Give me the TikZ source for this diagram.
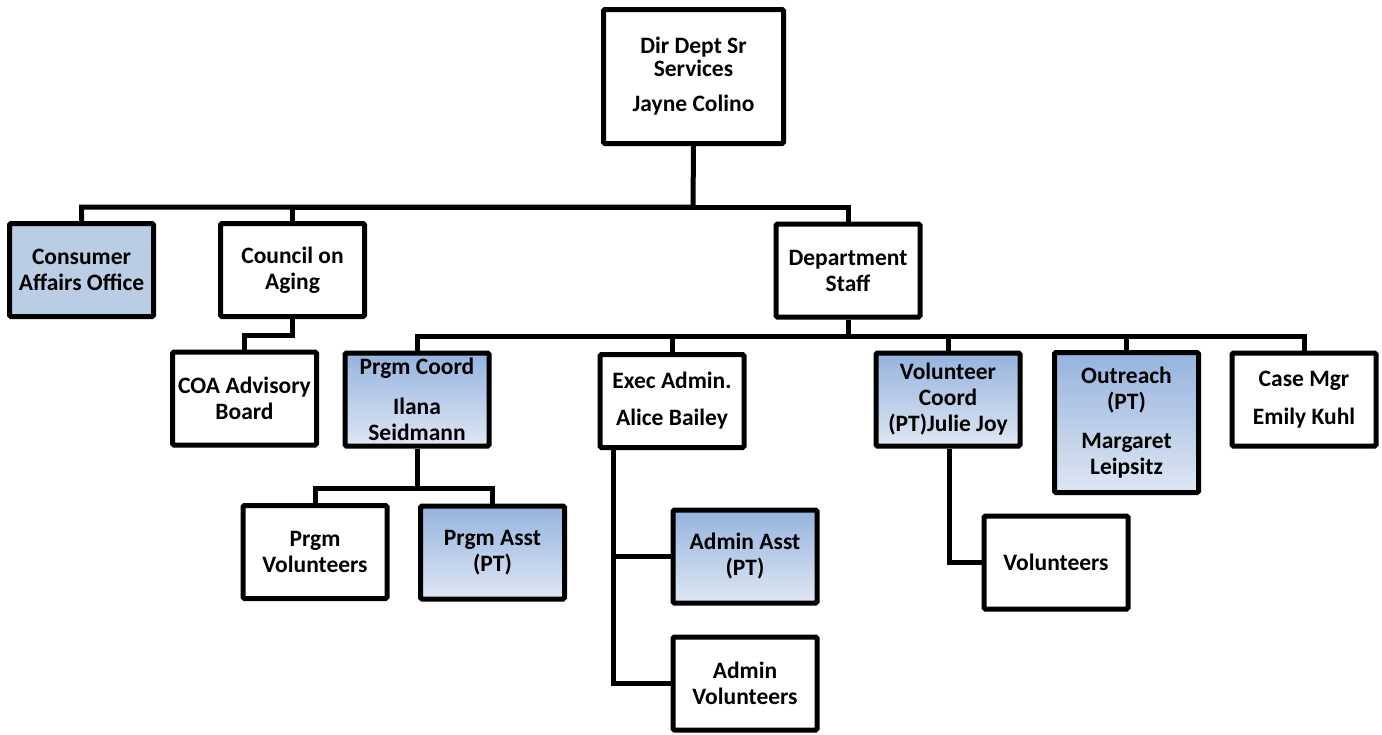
\documentclass[tikz,border=0pt]{standalone}
\usepackage{fontspec}
\setmainfont{Carlito}
\usepackage{xcolor}
\usetikzlibrary{positioning,calc}
\definecolor{flatblue}{HTML}{B9CDE5}
\definecolor{gtop}{HTML}{95B3DE}
\definecolor{gbot}{HTML}{DFE7F3}
\tikzset{
  box/.style={draw=black, line width=5pt, rounded corners=1.5pt, fill=white, align=center,
    minimum width=144pt, minimum height=93pt, inner sep=2pt,
    font=\fontsize{23.5}{26}\selectfont\bfseries},
  flatbox/.style={box, fill=flatblue},
  gradbox/.style={box, top color=gtop, bottom color=gbot},
  link/.style={draw=black, line width=5pt},
}

\begin{document}
\begin{tikzpicture}[x=1pt, y=-1pt]
  \useasboundingbox (0,0) rectangle (1382,734);
  % top level
  \node[box, minimum width=180pt, minimum height=134pt] (dir) at (693.5,76.5) {Dir Dept Sr\\[-3pt]Services\\[9pt]Jayne Colino};
  \node[flatbox] (cao) at (81.5,270) {Consumer\\Affairs Office};
  \node[box] (coa) at (292.5,270) {Council on\\Aging};
  \node[box] (dst) at (848,270.5) {Department\\Staff};
  \node[box] (adv) at (244.5,398.5) {COA Advisory\\Board};
  % department staff row
  \node[gradbox] (pcd) at (417,399.5) {Prgm Coord\\[14pt]Ilana\\Seidmann};
  \node[box] (exa) at (672,401) {Exec Admin.\\[11pt]Alice Bailey};
  \node[gradbox] (vco) at (948,399.5) {Volunteer\\Coord\\(PT)Julie Joy};
  \node[gradbox, minimum height=140pt] (otr) at (1126.5,422.5) {Outreach\\(PT)\\[13pt]Margaret\\Leipsitz};
  \node[box] (cmg) at (1304,399.5) {Case Mgr\\[12pt]Emily Kuhl};
  % lower row
  \node[box] (pvl) at (315,552) {Prgm\\Volunteers};
  \node[gradbox] (pas) at (492.5,552.5) {Prgm Asst\\(PT)};
  \node[gradbox] (aas) at (745,556.5) {Admin Asst\\(PT)};
  \node[box] (avl) at (745,683.5) {Admin\\Volunteers};
  \node[box] (vol) at (1056,562.5) {Volunteers};

  % bus levels
  \coordinate (busTop) at (693,207);
  \coordinate (busCoa) at (292.5,335);
  \coordinate (busDst) at (848,336);
  \coordinate (busPcd) at (417,488);

  \draw[link] (dir.south) -- (busTop) -| (cao.north);
  \draw[link] (busTop) -| (coa.north);
  \draw[link] (busTop) -| (dst.north);
  \draw[link] (coa.south) -- (busCoa) -| (adv.north);
  \draw[link] (dst.south) -- (busDst) -| (pcd.north);
  \draw[link] (busDst) -| (exa.north);
  \draw[link] (busDst) -| (vco.north);
  \draw[link] (busDst) -| (otr.north);
  \draw[link] (busDst) -| (cmg.north);
  \draw[link] (pcd.south) -- (busPcd) -| (pvl.north);
  \draw[link] (busPcd) -| (pas.north);
  \draw[link] ([xshift=16pt]exa.south west) |- (aas.west);
  \draw[link] ([xshift=16pt]exa.south west) |- (avl.west);
  \draw[link] ([xshift=1pt]vco.south) |- (vol.west);
\end{tikzpicture}
\end{document}
